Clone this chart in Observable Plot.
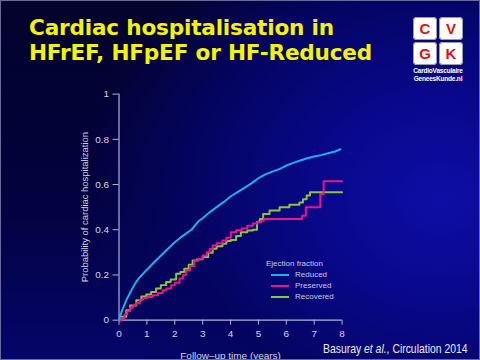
<!DOCTYPE html>
<html><head><meta charset="utf-8">
<script src="https://cdn.jsdelivr.net/npm/d3@7"></script>
<script src="https://cdn.jsdelivr.net/npm/@observablehq/plot@0.6"></script>
<style>
html,body{margin:0;padding:0;}
body{width:480px;height:360px;overflow:hidden;}
#stage{position:relative;width:478px;height:358px;border:1px solid #6a6a98;overflow:hidden;
 background: radial-gradient(ellipse 75% 85% at 92% 55%, #0e0ea6 0%, #08088a 35%, #040460 70%, rgba(4,4,60,0) 100%),
             linear-gradient(180deg, #03032c 0%, #02023e 55%, #05056a 100%);
 font-family:"Liberation Sans", Arial, sans-serif;}
#title{position:absolute;left:28px;top:14px;color:#f4f400;font-family:"DejaVu Sans",Verdana,sans-serif;font-weight:bold;font-size:21.6px;line-height:25px;letter-spacing:-0.2px;}
#plot{position:absolute;left:0;top:0;}
#legend{position:absolute;left:265px;top:257px;color:#c8c8e0;font-size:8px;line-height:11px;}
#legend .row{margin-left:5px;display:flex;align-items:center;}
#legend .sw{display:inline-block;width:18px;height:2px;margin-right:6px;}
#cite{position:absolute;left:322px;top:340px;color:#e8e8f2;font-family:"Liberation Sans",sans-serif;font-size:13px;white-space:nowrap;transform:scaleX(0.8);transform-origin:left center;}
#logo{position:absolute;left:412px;top:16px;width:50px;}
#logo .grid{display:grid;grid-template-columns:24px 24px;grid-template-rows:23px 23px;gap:2px;}
#logo .cell{background:#fff;border-radius:4px;color:#e01010;font-weight:bold;font-size:15px;display:flex;align-items:center;justify-content:center;box-shadow:0 0 0 1px #9a9aa8 inset;}
#logo .txt{color:#fff;font-size:6.5px;font-weight:bold;line-height:8px;text-align:center;margin-top:2px;letter-spacing:-0.2px;white-space:nowrap;}
</style></head>
<body>
<div id="stage">
  <div id="title">Cardiac hospitalisation in<br>HFrEF, HFpEF or HF-Reduced</div>
  <div id="logo"><div class="grid"><div class="cell">C</div><div class="cell">V</div><div class="cell">G</div><div class="cell">K</div></div>
    <div class="txt">CardioVasculaire<br>GeneesKunde.nl</div></div>
  <div id="plot"></div>
  <div id="legend"></div>
  <div id="cite">Basuray <i>et al.</i>, Circulation 2014</div>
</div>
<script>
const seriesNames = ["Reduced", "Preserved", "Recovered"];
const seriesColors = ["#1cb0ea", "#e8168c", "#8cc43c"];
const xTicks = [0,1,2,3,4,5,6,7,8];
const yTicks = [0,0.2,0.4,0.6,0.8,1];

const reducedT = [0,0.1,0.26,0.5,0.62,0.75,0.975,1.25,1.5,1.69,2.0,2.2,2.4,2.6,2.87,3.0,3.25,3.5,3.75,4.0,4.25,4.5,4.75,5.0,5.25,5.5,5.75,6.0,6.25,6.5,6.75,7.0,7.25,7.5,7.75,7.94];
const reducedP = [0,0.04,0.088,0.145,0.17,0.19,0.22,0.255,0.285,0.308,0.345,0.365,0.383,0.40,0.44,0.451,0.477,0.5,0.522,0.547,0.566,0.585,0.605,0.628,0.645,0.657,0.668,0.684,0.696,0.706,0.716,0.724,0.73,0.738,0.746,0.756];

const preservedT = [0,0.1,0.2,0.3,0.4,0.5,0.6,0.75,0.86,1.0,1.21,1.4,1.57,1.7,1.87,2.0,2.17,2.3,2.4,2.55,2.7,2.85,3.0,3.15,3.25,3.36,3.5,3.71,3.85,4.01,4.2,4.4,4.6,4.8,4.94,5.1,5.2,6.57,6.7,7.22,7.34,8.0];
const preservedP = [0,0.01,0.025,0.04,0.055,0.066,0.075,0.09,0.098,0.103,0.11,0.12,0.132,0.14,0.154,0.165,0.184,0.2,0.22,0.24,0.264,0.272,0.286,0.3,0.315,0.33,0.34,0.352,0.365,0.389,0.398,0.405,0.418,0.428,0.433,0.44,0.448,0.462,0.5,0.558,0.614,0.614];

const recoveredT = [0,0.1,0.26,0.4,0.62,0.8,0.975,1.15,1.33,1.5,1.69,1.85,2.05,2.2,2.34,2.5,2.64,2.8,3.0,3.2,3.36,3.5,3.71,3.85,4.01,4.2,4.37,4.6,4.8,4.95,5.05,5.17,5.4,5.76,6.11,6.47,6.6,6.73,6.85,8.0];
const recoveredP = [0,0.015,0.044,0.065,0.088,0.105,0.114,0.125,0.14,0.155,0.169,0.18,0.205,0.213,0.227,0.245,0.264,0.27,0.279,0.298,0.316,0.327,0.338,0.35,0.355,0.372,0.389,0.397,0.4,0.435,0.448,0.47,0.485,0.499,0.511,0.521,0.535,0.551,0.566,0.566];

const toRows = (ts, ps, s) => ts.map((t, i) => ({t, p: ps[i], s}));
const reduced = toRows(reducedT, reducedP, "Reduced");
const preserved = toRows(preservedT, preservedP, "Preserved");
const recovered = toRows(recoveredT, recoveredP, "Recovered");

const axisColor = "#b4b4d2";
const labelColor = "#d4d4e6";

const chart = Plot.plot({
  width: 480, height: 360,
  marginLeft: 118, marginRight: 138, marginTop: 93, marginBottom: 40,
  style: {background: "transparent", color: labelColor, fontFamily: "'Liberation Sans', Arial, sans-serif", fontSize: "10px", overflow: "visible"},
  x: {domain: [0, 8]},
  y: {domain: [0, 1]},
  color: {domain: seriesNames, range: seriesColors},
  marks: [
    Plot.ruleX([0], {y1: 0, y2: 1, stroke: axisColor, strokeWidth: 1.2}),
    Plot.ruleY([0], {x1: 0, x2: 8, stroke: axisColor, strokeWidth: 1.2}),
    Plot.axisY(yTicks, {label: null, tickSize: 6, tickPadding: 4, stroke: axisColor, fill: labelColor, tickFormat: d => String(d), fontSize: 10}),
    Plot.axisY({label: "Probability of cardiac hospitalization", labelAnchor: "center", labelArrow: "none", labelOffset: 38, ticks: [], fontSize: 9.5, fill: labelColor}),
    Plot.axisX(xTicks, {label: null, tickSize: 5, tickPadding: 5, stroke: axisColor, fill: labelColor, tickFormat: d => String(d), fontSize: 10}),
    Plot.axisX({label: "Follow–up time (years)", labelAnchor: "center", labelArrow: "none", labelOffset: 39, ticks: [], fontSize: 10, fill: labelColor}),
    Plot.line(recovered, {x: "t", y: "p", stroke: "s", strokeWidth: 2, curve: "step-after"}),
    Plot.line(preserved, {x: "t", y: "p", stroke: "s", strokeWidth: 2, curve: "step-after"}),
    Plot.line(reduced, {x: "t", y: "p", stroke: "s", strokeWidth: 2, curve: "linear"})
  ]
});
document.getElementById("plot").appendChild(chart);

const lg = document.getElementById("legend");
const head = document.createElement("div");
head.textContent = "Ejection fraction";
lg.appendChild(head);
seriesNames.forEach((n, i) => {
  const r = document.createElement("div"); r.className = "row";
  const sw = document.createElement("span"); sw.className = "sw"; sw.style.background = seriesColors[i];
  const tx = document.createElement("span"); tx.textContent = n;
  r.appendChild(sw); r.appendChild(tx); lg.appendChild(r);
});
</script>
</body></html>
